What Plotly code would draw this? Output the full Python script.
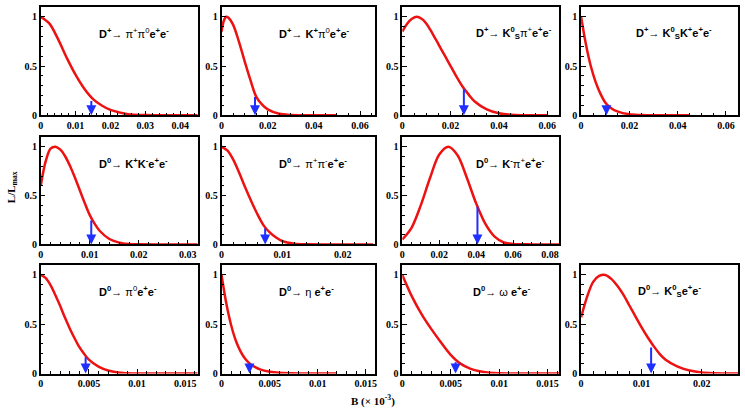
import plotly.graph_objects as go

# ---------------- data ----------------
labels = [
    "<b>D<sup>+</sup></b>→ π<sup>+</sup>π<sup>0</sup><b>e<sup>+</sup>e<sup>-</sup></b>",
    "<b>D<sup>+</sup></b>→ <b>K<sup>+</sup></b>π<sup>0</sup><b>e<sup>+</sup>e<sup>-</sup></b>",
    "<b>D<sup>+</sup></b>→ <b>K<sup>0</sup><sub>S</sub></b>π<sup>+</sup><b>e<sup>+</sup>e<sup>-</sup></b>",
    "<b>D<sup>+</sup></b>→ <b>K<sup>0</sup><sub>S</sub>K<sup>+</sup>e<sup>+</sup>e<sup>-</sup></b>",
    "<b>D<sup>0</sup></b>→ <b>K<sup>+</sup>K<sup>-</sup>e<sup>+</sup>e<sup>-</sup></b>",
    "<b>D<sup>0</sup></b>→ π<sup>+</sup>π<sup>-</sup><b>e<sup>+</sup>e<sup>-</sup></b>",
    "<b>D<sup>0</sup></b>→ <b>K<sup>-</sup></b>π<sup>+</sup><b>e<sup>+</sup>e<sup>-</sup></b>",
    "<b>D<sup>0</sup></b>→ π<sup>0</sup><b>e<sup>+</sup>e<sup>-</sup></b>",
    "<b>D<sup>0</sup></b>→ η <b>e<sup>+</sup>e<sup>-</sup></b>",
    "<b>D<sup>0</sup></b>→ ω <b>e<sup>+</sup>e<sup>-</sup></b>",
    "<b>D<sup>0</sup></b>→ <b>K<sup>0</sup><sub>S</sub>e<sup>+</sup>e<sup>-</sup></b>",
]

b1 = [0, 0.0025, 0.005, 0.0075, 0.01, 0.0125, 0.015, 0.0175, 0.02, 0.0225, 0.025, 0.03, 0.035, 0.045]
l1 = [1.0, 0.93, 0.77, 0.58, 0.41, 0.27, 0.165, 0.10, 0.055, 0.03, 0.012, 0.002, 0, 0]

b2 = [0, 0.001, 0.002, 0.003, 0.005, 0.0075, 0.01, 0.0125, 0.015, 0.0175, 0.02, 0.025, 0.03, 0.04, 0.05]
l2 = [0.85, 0.96, 1.0, 0.99, 0.92, 0.75, 0.55, 0.36, 0.19, 0.11, 0.06, 0.015, 0.003, 0, 0]

b3 = [0, 0.002, 0.004, 0.006, 0.008, 0.01, 0.0125, 0.015, 0.0175, 0.02, 0.0225, 0.025, 0.0275, 0.03, 0.035, 0.04, 0.045, 0.05, 0.06]
l3 = [0.85, 0.93, 0.98, 1.0, 0.98, 0.93, 0.83, 0.72, 0.61, 0.5, 0.39, 0.29, 0.21, 0.14, 0.06, 0.02, 0.005, 0.001, 0]

b4 = [0, 0.002, 0.004, 0.006, 0.008, 0.01, 0.012, 0.015, 0.02, 0.025, 0.03, 0.045]
l4 = [1.0, 0.72, 0.5, 0.34, 0.22, 0.13, 0.08, 0.04, 0.01, 0.003, 0, 0]

b5 = [0, 0.001, 0.002, 0.003, 0.004, 0.005, 0.006, 0.007, 0.008, 0.009, 0.01, 0.011, 0.012, 0.014, 0.016, 0.018, 0.02, 0.025, 0.032]
l5 = [0.6, 0.85, 0.98, 1.0, 0.97, 0.9, 0.8, 0.68, 0.55, 0.42, 0.3, 0.21, 0.14, 0.055, 0.018, 0.005, 0.001, 0, 0]

b6 = [0, 0.001, 0.002, 0.003, 0.004, 0.005, 0.006, 0.007, 0.008, 0.009, 0.01, 0.012, 0.014, 0.02, 0.025]
l6 = [1.0, 0.96, 0.86, 0.72, 0.57, 0.43, 0.3, 0.19, 0.12, 0.07, 0.035, 0.008, 0.001, 0, 0]

b7 = [0, 0.005, 0.01, 0.015, 0.02, 0.025, 0.03, 0.035, 0.04, 0.045, 0.05, 0.055, 0.06, 0.07, 0.085]
l7 = [0.05, 0.17, 0.4, 0.68, 0.92, 1.0, 0.91, 0.68, 0.42, 0.21, 0.08, 0.02, 0.005, 0, 0]

b8 = [0, 0.0005, 0.001, 0.0015, 0.002, 0.0025, 0.003, 0.0035, 0.004, 0.0045, 0.005, 0.006, 0.007, 0.008, 0.009, 0.01, 0.0163]
l8 = [1.0, 0.97, 0.9, 0.8, 0.69, 0.57, 0.46, 0.36, 0.27, 0.2, 0.14, 0.07, 0.03, 0.01, 0.003, 0, 0]

b9 = [0, 0.0005, 0.001, 0.0015, 0.002, 0.0025, 0.003, 0.0035, 0.004, 0.005, 0.006, 0.008, 0.012]
l9 = [1.0, 0.71, 0.49, 0.33, 0.22, 0.145, 0.095, 0.065, 0.042, 0.018, 0.007, 0.001, 0]

b10 = [0, 0.001, 0.002, 0.003, 0.004, 0.005, 0.006, 0.007, 0.008, 0.009, 0.01, 0.012, 0.0162]
l10 = [1.0, 0.78, 0.6, 0.45, 0.315, 0.19, 0.1, 0.05, 0.022, 0.009, 0.003, 0, 0]

b11 = [0, 0.001, 0.002, 0.003, 0.004, 0.005, 0.006, 0.007, 0.008, 0.009, 0.01, 0.011, 0.012, 0.013, 0.014, 0.016, 0.018, 0.02, 0.022, 0.026]
l11 = [0.57, 0.78, 0.93, 0.99, 1.0, 0.96, 0.89, 0.8, 0.69, 0.58, 0.47, 0.37, 0.28, 0.2, 0.14, 0.07, 0.03, 0.01, 0.003, 0]

curves_b = [b1, b2, b3, b4, b5, b6, b7, b8, b9, b10, b11]
curves_l = [l1, l2, l3, l4, l5, l6, l7, l8, l9, l10, l11]

# upper limits (arrow positions) and likelihood at those
ul_b = [0.0145, 0.0145, 0.0255, 0.0105, 0.0103, 0.0072, 0.0407, 0.00466, 0.0029, 0.0055, 0.0116]
ul_l = [0.16, 0.20, 0.28, 0.11, 0.26, 0.18, 0.40, 0.18, 0.10, 0.13, 0.28]

x_max = [0.045, 0.0667, 0.065, 0.065, 0.032, 0.0254, 0.085, 0.0163, 0.016, 0.0162, 0.026]
x_tickvals = [
    [0, 0.01, 0.02, 0.03, 0.04],
    [0, 0.02, 0.04, 0.06],
    [0, 0.02, 0.04, 0.06],
    [0, 0.02, 0.04, 0.06],
    [0, 0.01, 0.02, 0.03],
    [0, 0.01, 0.02],
    [0, 0.02, 0.04, 0.06, 0.08],
    [0, 0.005, 0.01, 0.015],
    [0, 0.005, 0.01, 0.015],
    [0, 0.005, 0.01, 0.015],
    [0, 0.01, 0.02],
]
x_ticktext = [
    ["0", "0.01", "0.02", "0.03", "0.04"],
    ["0", "0.02", "0.04", "0.06"],
    ["0", "0.02", "0.04", "0.06"],
    ["0", "0.02", "0.04", "0.06"],
    ["0", "0.01", "0.02", "0.03"],
    ["0", "0.01", "0.02"],
    ["0", "0.02", "0.04", "0.06", "0.08"],
    ["0", "0.005", "0.01", "0.015"],
    ["0", "0.005", "0.01", "0.015"],
    ["0", "0.005", "0.01", "0.015"],
    ["0", "0.01", "0.02"],
]
x_minor = [0.002, 0.005, 0.005, 0.005, 0.002, 0.002, 0.005, 0.001, 0.001, 0.001, 0.002]
y_tickvals = [0, 0.5, 1]
y_ticktext = ["0", "0.5", "1"]

# ---------------- layout geometry (pixels) ----------------
W, H = 745, 414
col_px = [(38, 196), (220, 375), (402, 560), (582, 740)]
row_px = [(7, 117), (139, 248), (269, 379)]
panel_pos = [(0, 0), (0, 1), (0, 2), (0, 3),
             (1, 0), (1, 1), (1, 2),
             (2, 0), (2, 1), (2, 2), (2, 3)]
label_xfrac = [0.36, 0.36, 0.46, 0.34, 0.36, 0.36, 0.46, 0.36, 0.36, 0.44, 0.35]

RED = "#ee1111"
BLUE = "#1f2fff"
tick_font = dict(family="Liberation Serif", size=10, color="black", weight="bold")

fig = go.Figure()
annotations = []
layout = dict(
    width=W, height=H, margin=dict(l=0, r=0, t=0, b=0),
    paper_bgcolor="white", plot_bgcolor="white", showlegend=False,
)

for i, (r, c) in enumerate(panel_pos):
    n = i + 1
    xa = "xaxis" if n == 1 else f"xaxis{n}"
    ya = "yaxis" if n == 1 else f"yaxis{n}"
    xr = "x" if n == 1 else f"x{n}"
    yr = "y" if n == 1 else f"y{n}"
    x0, x1 = col_px[c]
    y0, y1 = row_px[r]
    layout[xa] = dict(
        domain=[x0 / W, x1 / W], anchor=yr, range=[0, x_max[i]],
        showgrid=False, zeroline=False, showline=True, linecolor="black",
        linewidth=1.5, mirror=True, ticks="inside", ticklen=5, tickwidth=1,
        tickcolor="black", tickvals=x_tickvals[i], ticktext=x_ticktext[i],
        tickfont=tick_font,
        minor=dict(ticks="inside", ticklen=3, dtick=x_minor[i], tick0=0,
                   tickcolor="black", showgrid=False),
    )
    layout[ya] = dict(
        domain=[1 - y1 / H, 1 - y0 / H], anchor=xr, range=[0, 1.1],
        showgrid=False, zeroline=False, showline=True, linecolor="black",
        linewidth=1.5, mirror=True, ticks="inside", ticklen=5, tickwidth=1,
        tickcolor="black", tickvals=y_tickvals, ticktext=y_ticktext,
        tickfont=tick_font,
        minor=dict(ticks="inside", ticklen=3, dtick=0.1, tick0=0,
                   tickcolor="black", showgrid=False),
    )
    fig.add_trace(go.Scatter(
        x=curves_b[i], y=curves_l[i], mode="lines", xaxis=xr, yaxis=yr,
        line=dict(color=RED, width=2.5, shape="spline", smoothing=0.9),
        cliponaxis=True, hoverinfo="skip",
    ))
    annotations.append(dict(
        x=ul_b[i], y=0, ax=ul_b[i], ay=ul_l[i], xref=xr, yref=yr,
        axref=xr, ayref=yr, showarrow=True, arrowhead=2, arrowsize=1,
        arrowwidth=2, arrowcolor=BLUE, text="", standoff=0, startstandoff=0,
    ))
    annotations.append(dict(
        x=label_xfrac[i], y=0.76, xref=f"{xr} domain", yref=f"{yr} domain",
        text=labels[i], showarrow=False, xanchor="left", yanchor="middle",
        font=dict(family="Liberation Sans", size=11, color="black"),
    ))

annotations.append(dict(
    x=372 / W, y=1 - 406 / H, xref="paper", yref="paper",
    xanchor="center", yanchor="middle",
    text="<b>B (× 10<sup>-3</sup>)</b>", showarrow=False,
    font=dict(family="Liberation Serif", size=11, color="black"),
))
annotations.append(dict(
    x=9 / W, y=1 - 190 / H, xref="paper", yref="paper",
    xanchor="center", yanchor="middle",
    text="<b>L/L<sub>max</sub></b>", showarrow=False, textangle=-90,
    font=dict(family="Liberation Serif", size=11, color="black"),
))

layout["annotations"] = annotations
fig.update_layout(**layout)
fig.write_html("out.html")
